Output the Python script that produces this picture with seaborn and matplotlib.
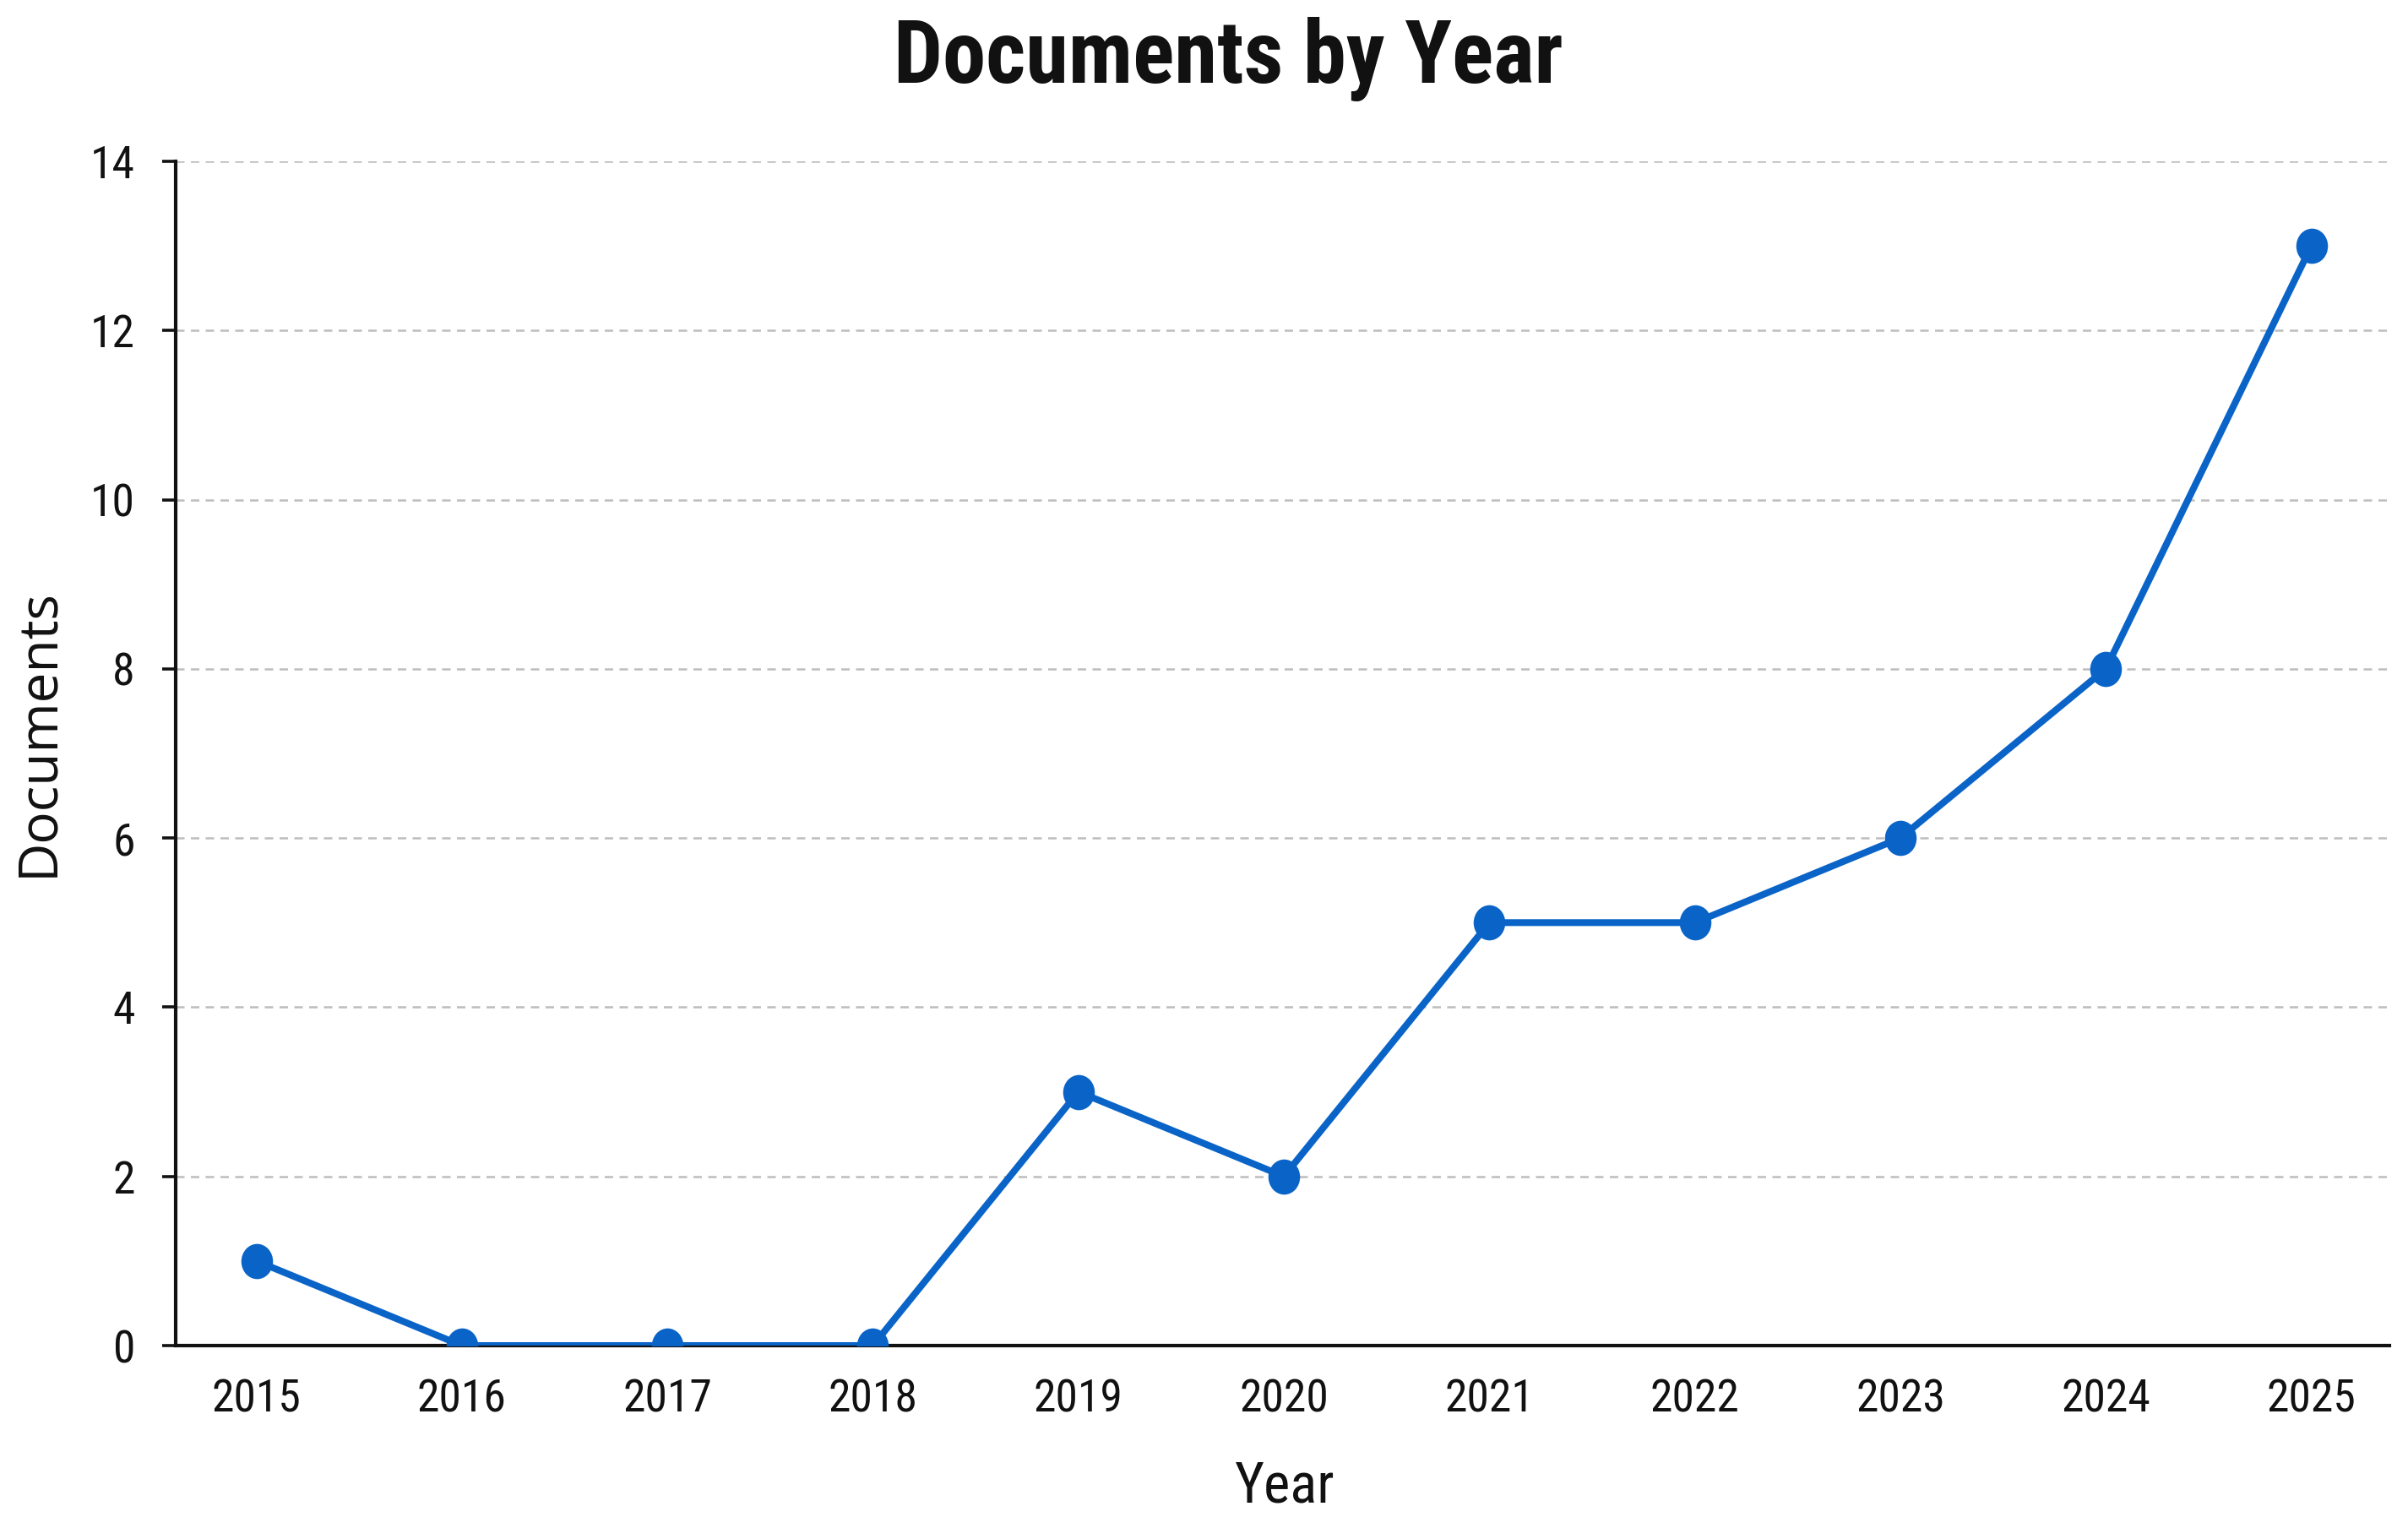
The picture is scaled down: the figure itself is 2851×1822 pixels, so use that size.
import matplotlib
matplotlib.use("Agg")
import matplotlib.pyplot as plt
from matplotlib import font_manager
from matplotlib.markers import MarkerStyle
from matplotlib.transforms import Affine2D
import seaborn as sns
import pandas as pd

# ---- data ----
years = [2015, 2016, 2017, 2018, 2019, 2020, 2021, 2022, 2023, 2024, 2025]
documents = [1, 0, 0, 0, 3, 2, 5, 5, 6, 8, 13]
y_ticks = [0, 2, 4, 6, 8, 10, 12, 14]
title = "Documents by Year"
x_label = "Year"
y_label = "Documents"

df = pd.DataFrame({"Year": years, "Documents": documents})

sns.set_theme(style="white")

available = {f.name for f in font_manager.fontManager.ttflist}
def pick(*names):
    for n in names:
        if n in available:
            return n
    return "DejaVu Sans"

narrow = pick("Roboto Condensed", "Liberation Sans Narrow", "Open Sans", "Liberation Sans")
regular = pick("Open Sans", "Liberation Sans", "DejaVu Sans")
plt.rcParams["font.family"] = [narrow, "DejaVu Sans"]

W, H, DPI = 2851, 1822, 200
fig = plt.figure(figsize=(W / DPI, H / DPI), dpi=DPI)
L, R, T, B = 208, 2829, 191, 1593
ax = fig.add_axes([L / W, 1 - B / H, (R - L) / W, (B - T) / H])

blue = "#0a64c8"
mk = MarkerStyle("o", transform=Affine2D().scale(0.9, 1.0))
sns.lineplot(data=df, x="Year", y="Documents", ax=ax, color=blue,
             linewidth=2.9, marker=mk, markersize=15, markeredgewidth=0,
             zorder=3)

ax.set_xlim(2014.607, 2025.38)
ax.set_ylim(0, 14)
ax.set_xticks(years)
ax.set_xticklabels([str(y) for y in years])
ax.set_yticks(y_ticks)
ax.set_yticklabels([str(v) for v in y_ticks])

ax.grid(axis="y", color="#bdbdbd", linestyle=(0, (4, 3)), linewidth=0.9)
ax.grid(axis="x", visible=False)
ax.set_axisbelow(True)

for s in ["top", "right"]:
    ax.spines[s].set_visible(False)
for s in ["left", "bottom"]:
    ax.spines[s].set_color("#111111")
    ax.spines[s].set_linewidth(1.5)

tick_fs = 19.3
ax.tick_params(axis="y", length=5.8, width=1.3, color="#111111", pad=11.5,
               labelsize=tick_fs, labelcolor="#111111", left=True)
ax.tick_params(axis="x", length=0, pad=14, labelsize=tick_fs, labelcolor="#111111",
               bottom=True)

ax.set_xlabel(x_label, fontsize=24, color="#111111")
ax.xaxis.set_label_coords(0.501, -0.097)
ax.xaxis.label.set_va("top")
ax.set_ylabel(y_label, fontsize=23, color="#111111", family=[regular, "DejaVu Sans"])
ax.yaxis.set_label_coords(-0.0497, 0.518)

fig.text(1454 / W, 1 - 98 / H, title, ha="center", va="baseline",
         fontsize=37, fontweight="bold", color="#111111")

fig.savefig("out.png", dpi=DPI, facecolor="white")
